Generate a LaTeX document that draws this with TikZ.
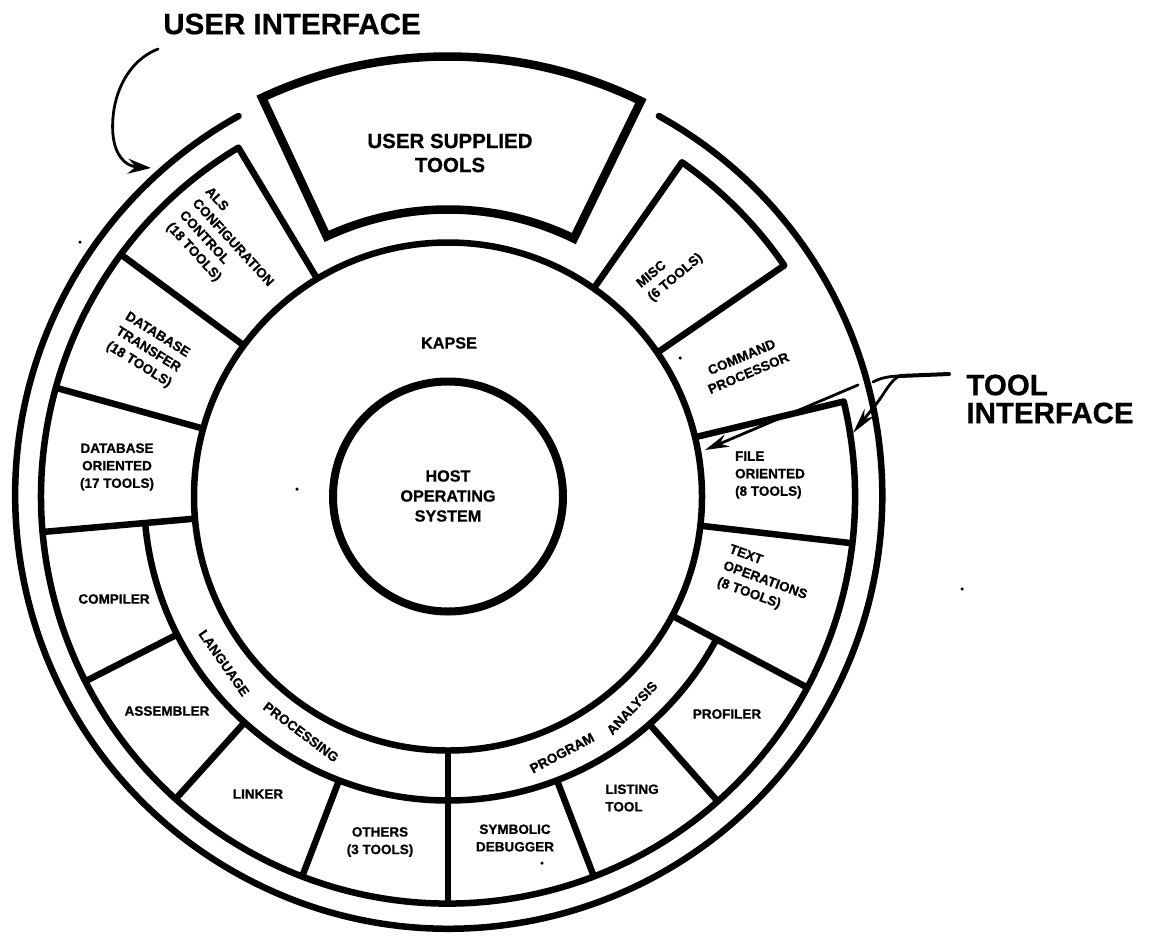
\documentclass[tikz,border=0pt]{standalone}
\usepackage{fontspec}
\setmainfont{Liberation Sans}[BoldFeatures={FakeBold=0.7}]
\usetikzlibrary{arrows.meta}
\tikzset{
  ring/.style={line width=6.5pt,line join=round},
  thick ring/.style={line width=8.5pt,line join=miter},
  spoke/.style={line width=6.5pt},
  leader/.style={line width=2.8pt,line cap=round},
  big/.style={font=\fontsize{29.5}{28}\selectfont\bfseries,inner sep=0pt,align=left},
  mid/.style={font=\fontsize{20.5}{24}\selectfont\bfseries,inner sep=0pt,align=center},
  small/.style={font=\fontsize{13.5}{17.5}\selectfont\bfseries,inner sep=0pt,align=center},
  smallL/.style={small,align=left},
  center text/.style={font=\fontsize{16.2}{20}\selectfont\bfseries,inner sep=0pt,align=center},
  speck/.style={fill=black,circle,inner sep=0pt,minimum size=3.5pt}
}
\begin{document}
\begin{tikzpicture}[x=1pt,y=-1pt]
\useasboundingbox (0,0) rectangle (1150,935);
\begin{scope}[shift={(448,496.5)}]
  % outer circle with gap
  \draw[ring,line cap=round] (61:435pt) arc[start angle=61,end angle=-241,radius=433.5pt];
  % inner circle and KAPSE circle
  \draw[ring,line width=8pt] (0,0) circle[radius=115pt];
  \draw[ring] (0,0) circle[radius=254pt];
  % user supplied tools
  \draw[thick ring] (115:440pt) arc[start angle=115,end angle=64,radius=440pt]
     -- (64:287pt) arc[start angle=64,end angle=115,radius=287pt] -- cycle;
  % MISC box
  \draw[ring] (55:254pt) -- (55:408pt) arc[start angle=55,end angle=34.5,radius=408pt] -- (34.5:254pt);
  % tool ring from FILE box around to ALS box
  \draw[ring] (13.5:254pt) -- (13.5:407pt) arc[start angle=13.5,end angle=-239,radius=407pt] -- (121:254pt);
  % program groups
  \draw[ring] (185:304pt) arc[start angle=185,end angle=270,radius=304pt];
  \draw[ring] (270:304pt) arc[start angle=270,end angle=332,radius=304pt];
  % dividers
  \foreach \a in {143.5,164.5,185,353.4,332}
    \draw[spoke] (\a:254pt) -- (\a:407pt);
  \foreach \a in {207,228,249,291,311.5}
    \draw[spoke] (\a:304pt) -- (\a:407pt);
  \draw[spoke] (270:254pt) -- (270:407pt);
\end{scope}
% labels
\node[big] (ui) at (292,24) {USER INTERFACE};
\node[big] (ti) at (1050,399) {TOOL\\INTERFACE};
\node[mid] (ust) at (450,153) {USER SUPPLIED\\TOOLS};
\node[center text] (kapse) at (449,343) {KAPSE};
\node[center text] (host) at (448,496) {HOST\\OPERATING\\SYSTEM};
\node[smallL,rotate=-47.5] (als) at (226,249) {ALS\\CONFIGURATION\\CONTROL\\(18 TOOLS)};
\node[small,rotate=-32] (dbt) at (148,350) {DATABASE\\TRANSFER\\(18 TOOLS)};
\node[small] (dbo) at (117,467) {DATABASE\\ORIENTED\\(17 TOOLS)};
\node[small] (comp) at (114,599) {COMPILER};
\node[small] (asm) at (167,711) {ASSEMBLER};
\node[small] (link) at (258,794) {LINKER};
\node[small] (oth) at (380,842) {OTHERS\\(3 TOOLS)};
\node[small] (sym) at (515,838) {SYMBOLIC\\DEBUGGER};
\node[smallL] (list) at (632,798) {LISTING\\TOOL};
\node[small] (prof) at (727,714) {PROFILER};
\node[smallL,rotate=-20] (text) at (765,581) {TEXT\\OPERATIONS\\(8 TOOLS)};
\node[smallL] (file) at (770,475) {FILE\\ORIENTED\\(8 TOOLS)};
\node[small,rotate=23] (cmd) at (745,365) {COMMAND\\PROCESSOR};
\node[smallL,rotate=40] (misc) at (670,271) {MISC\\(6 TOOLS)};
\node[small,rotate=-55] (lang) at (224,663) {LANGUAGE};
\node[small,rotate=-37] (proc) at (301,732) {PROCESSING};
\node[small,rotate=28] (prog) at (562,753) {PROGRAM};
\node[small,rotate=47] (anal) at (632,708) {ANALYSIS};
% connectors
\coordinate (uistart) at (158,49);
\coordinate (uitip) at (151,168);
\draw[leader,-{Stealth[length=23pt,width=15pt]}] (uistart) .. controls (125,62) and (110,100) .. (113,135) .. controls (115,155) and (125,166) .. (uitip);
\coordinate (tistart) at (949,374);
\coordinate (tiknee) at (900,376);
\coordinate (a1) at (873,382);
\coordinate (a2) at (858,385);
\coordinate (a1tip) at (705,450);
\coordinate (a3) at (877,403);
\coordinate (a3tip) at (853,433);
\draw[leader,line width=4pt] (tistart) -- (tiknee);
\draw[leader] (tiknee) .. controls (890,376) and (880,378) .. (a1);
\draw[leader] (tiknee) .. controls (892,378) and (884,394) .. (a3);
\draw[leader,-{Stealth[length=26pt,width=12pt]}] (a3) -- (a3tip);
\draw[leader,-{Stealth[length=24pt,width=13pt]}] (a2) -- (a1tip);
% specks
\node[speck] (s1) at (80,242) {};
\node[speck] (s2) at (297,489) {};
\node[speck] (s3) at (680,358) {};
\node[speck] (s4) at (962,589) {};
\node[speck] (s5) at (542,863) {};
\end{tikzpicture}
\end{document}
